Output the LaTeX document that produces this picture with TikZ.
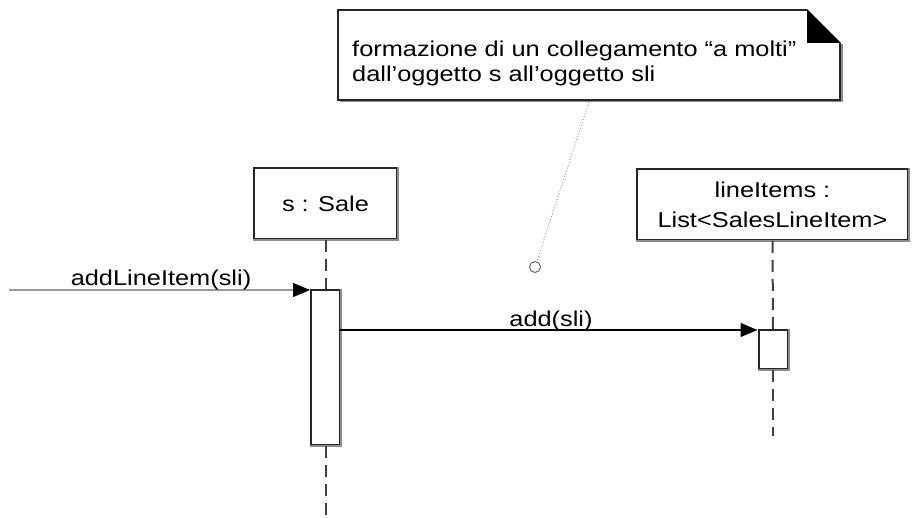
\documentclass[tikz,border=0pt]{standalone}
\usepackage{fontspec}
\setmainfont{Liberation Sans}[FakeStretch=1.18]
\usetikzlibrary{arrows.meta}
\begin{document}
\begin{tikzpicture}[x=1pt,y=-1pt,
  every node/.style={font=\fontsize{21.5}{25}\selectfont, inner sep=0pt},
  objbox/.style={draw=black!85, line width=2pt, fill=white},
  actbox/.style={draw=black!85, line width=2pt, fill=white, minimum width=29pt},
  rimshade/.style={draw=black!45, line width=2pt},
  lifeline/.style={draw=black!75, line width=2pt, dash pattern=on 12pt off 7pt},
  msgline/.style={line width=1.2pt, -{Triangle[length=17pt,width=14pt,color=black]}},
  anchorline/.style={draw=black!40, line width=1pt, dotted}
]
\useasboundingbox (0,0) rectangle (918,518);

% note
\draw[black!45, line width=2pt] (340,101.5) -- (841.5,101.5) -- (841.5,44);
\draw[draw=black!85, line width=1.6pt, fill=white] (338,10) -- (807,10) -- (840,43) -- (840,100) -- (338,100) -- cycle;
\fill[black] (807,10) -- (807,43) -- (840,43) -- cycle;
\node[anchor=base west] (note1) at (352,57) {formazione di un collegamento “a molti”};
\node[anchor=base west] (note2) at (352,82) {dall’oggetto s all’oggetto sli};
\coordinate (notebot) at (589,102);
\node[circle, draw=black!60, line width=1pt, minimum size=11pt, fill=white] (anc) at (535,267) {};
\draw[anchorline] (notebot) -- (anc);

% objects
\node[objbox, minimum width=143pt, minimum height=71pt] (s) at (325.5,203.5) {s : Sale};
\draw[rimshade] (s.north east) -- (s.south east) -- (s.south west);
\node[objbox, minimum width=271pt, minimum height=71pt, align=center,
      font=\fontsize{21.5}{30}\selectfont] (li) at (772.5,204.5) {lineItems :\\List<SalesLineItem>};
\draw[rimshade] (li.north east) -- (li.south east) -- (li.south west);

% activations
\node[actbox, minimum height=155pt] (as) at (325.5,367.5) {};
\draw[rimshade] (as.north east) -- (as.south east) -- (as.south west);
\node[actbox, minimum height=39pt] (ali) at (773,349.5) {};
\draw[rimshade] (ali.north east) -- (ali.south east) -- (ali.south west);

% lifelines
\coordinate (send) at (325.5,518);
\coordinate (liend) at (773,436);
\draw[lifeline] (s.south) -- (as.north);
\draw[lifeline] (as.south) -- (send);
\draw[lifeline] (li.south) -- (ali.north);
\draw[lifeline] (ali.south) -- (liend);

% messages
\coordinate (start) at (9,290);
\draw[msgline, draw=black!40] (start) -- (as.west |- start);
\node[anchor=base] (m1) at (161,286) {addLineItem(sli)};
\coordinate (addstart) at (340,330);
\draw[msgline, draw=black] (addstart) -- (ali.west |- addstart);
\node[anchor=base] (m2) at (551,327) {add(sli)};
\end{tikzpicture}
\end{document}
